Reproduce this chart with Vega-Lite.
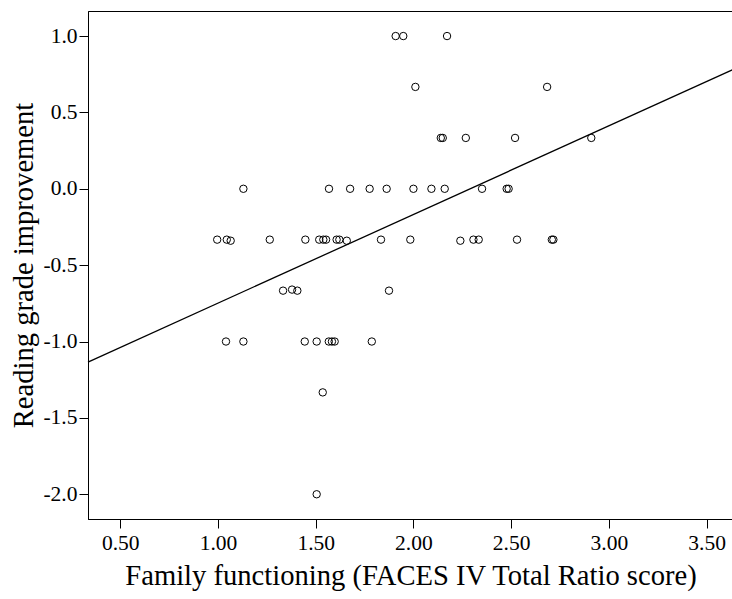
{
  "$schema": "https://vega.github.io/schema/vega-lite/v6.json",
  "width": 645,
  "height": 508,
  "autosize": {"type": "none"},
  "padding": {"left": 88, "top": 11, "right": 0, "bottom": 80},
  "background": "white",
  "config": {
    "font": "Liberation Serif",
    "view": {"stroke": "black", "strokeWidth": 1},
    "axis": {
      "grid": false,
      "domainColor": "black",
      "domainWidth": 1,
      "tickColor": "black",
      "tickWidth": 1,
      "tickSize": 9,
      "labelFont": "Liberation Serif",
      "labelFontSize": 21.5,
      "labelColor": "black",
      "titleFont": "Liberation Serif",
      "titleFontSize": 28.6,
      "titleFontWeight": "normal",
      "titleColor": "black"
    }
  },
  "layer": [
    {
      "data": {
        "values": [
          {"x": 1.909, "y": 1}, {"x": 1.948, "y": 1}, {"x": 2.172, "y": 1},
          {"x": 2.010, "y": 0.667}, {"x": 2.684, "y": 0.667},
          {"x": 2.140, "y": 0.333}, {"x": 2.150, "y": 0.333}, {"x": 2.268, "y": 0.333}, {"x": 2.520, "y": 0.333}, {"x": 2.910, "y": 0.333},
          {"x": 1.130, "y": 0}, {"x": 1.568, "y": 0}, {"x": 1.676, "y": 0}, {"x": 1.776, "y": 0}, {"x": 1.863, "y": 0}, {"x": 2.000, "y": 0}, {"x": 2.092, "y": 0}, {"x": 2.160, "y": 0}, {"x": 2.351, "y": 0}, {"x": 2.477, "y": 0}, {"x": 2.487, "y": 0},
          {"x": 0.996, "y": -0.333}, {"x": 1.045, "y": -0.333}, {"x": 1.065, "y": -0.34}, {"x": 1.265, "y": -0.333}, {"x": 1.447, "y": -0.333}, {"x": 1.518, "y": -0.333}, {"x": 1.539, "y": -0.333}, {"x": 1.553, "y": -0.333}, {"x": 1.607, "y": -0.333}, {"x": 1.621, "y": -0.333}, {"x": 1.659, "y": -0.34}, {"x": 1.834, "y": -0.333}, {"x": 1.984, "y": -0.333}, {"x": 2.240, "y": -0.34}, {"x": 2.307, "y": -0.333}, {"x": 2.334, "y": -0.333}, {"x": 2.530, "y": -0.333}, {"x": 2.708, "y": -0.333}, {"x": 2.716, "y": -0.333},
          {"x": 1.333, "y": -0.667}, {"x": 1.379, "y": -0.66}, {"x": 1.406, "y": -0.667}, {"x": 1.875, "y": -0.667},
          {"x": 1.041, "y": -1}, {"x": 1.130, "y": -1}, {"x": 1.444, "y": -1}, {"x": 1.505, "y": -1}, {"x": 1.567, "y": -1}, {"x": 1.583, "y": -1}, {"x": 1.597, "y": -1}, {"x": 1.787, "y": -1},
          {"x": 1.536, "y": -1.333},
          {"x": 1.505, "y": -2}
        ]
      },
      "mark": {"type": "point", "shape": "circle", "filled": false, "stroke": "black", "strokeWidth": 1, "size": 55, "opacity": 1},
      "encoding": {
        "x": {
          "field": "x", "type": "quantitative",
          "scale": {"domain": [0.335, 3.635], "nice": false, "zero": false},
          "axis": {"values": [0.5, 1, 1.5, 2, 2.5, 3, 3.5], "format": ".2f", "labelPadding": 4, "title": "Family functioning (FACES IV Total Ratio score)", "titlePadding": 8}
        },
        "y": {
          "field": "y", "type": "quantitative",
          "scale": {"domain": [-2.162, 1.164], "nice": false, "zero": false},
          "axis": {"values": [-2, -1.5, -1, -0.5, 0, 0.5, 1], "labelExpr": "datum.value < 0 ? '-' + format(-datum.value, '.1f') : format(datum.value, '.1f')", "labelPadding": 2, "title": "Reading grade improvement", "titlePadding": 4}
        }
      }
    },
    {
      "data": {"values": [{"x": 0.335, "y": -1.1346}, {"x": 3.635, "y": 0.7808}]},
      "mark": {"type": "line", "color": "black", "strokeWidth": 1.3},
      "encoding": {
        "x": {"field": "x", "type": "quantitative"},
        "y": {"field": "y", "type": "quantitative"}
      }
    }
  ]
}
